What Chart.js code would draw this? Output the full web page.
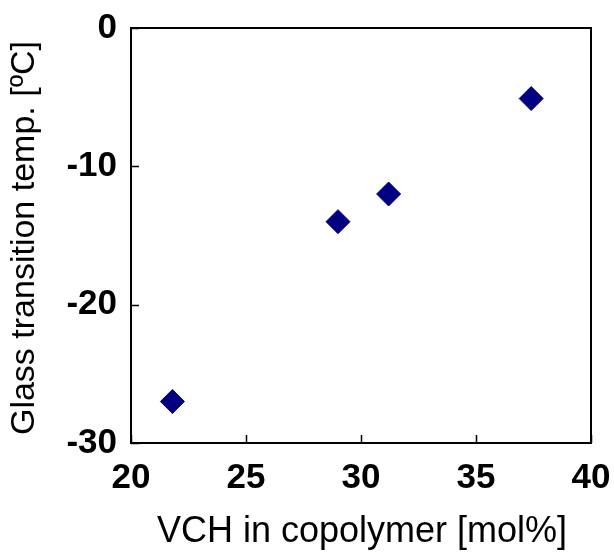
<!DOCTYPE html>
<html>
<head>
<meta charset="utf-8">
<script src="https://cdn.jsdelivr.net/npm/chart.js@4/dist/chart.umd.min.js"></script>
<style>
html,body{margin:0;padding:0;background:#fff;}
#wrap{width:614px;height:552px;}
</style>
</head>
<body>
<div id="wrap"><canvas id="c" width="614" height="552"></canvas></div>
<script>
const vchMolPercent = [21.8, 29.0, 31.2, 37.4];
const glassTransitionTemp = [-27.0, -14.0, -12.0, -5.1];
const xTicks = [20, 25, 30, 35, 40];
const yTicks = [-30, -20, -10, 0];
const xTitle = 'VCH in copolymer [mol%]';
const yTitle = 'Glass transition temp. [ºC]';

const FONT = '"Liberation Sans", Arial, sans-serif';

const points = vchMolPercent.map((x, i) => ({x: x, y: glassTransitionTemp[i]}));

const frameAndTicks = {
  id: 'frameAndTicks',
  afterDraw(chart) {
    const ctx = chart.ctx;
    const a = chart.chartArea;
    const xs = chart.scales.x, ys = chart.scales.y;
    ctx.save();
    ctx.strokeStyle = '#000';
    ctx.lineWidth = 2;
    ctx.strokeRect(a.left, a.top, a.right - a.left, a.bottom - a.top);
    ctx.lineWidth = 1.5;
    const L = 8;
    ctx.beginPath();
    xs.ticks.forEach(t => {
      const px = Math.round(xs.getPixelForValue(t.value)) + 0.5;
      ctx.moveTo(px, a.bottom); ctx.lineTo(px, a.bottom - L);
    });
    ys.ticks.forEach(t => {
      const py = Math.round(ys.getPixelForValue(t.value)) + 0.5;
      ctx.moveTo(a.left, py); ctx.lineTo(a.left + L, py);
    });
    ctx.stroke();
    // axis titles
    ctx.fillStyle = '#000';
    ctx.textAlign = 'center';
    ctx.textBaseline = 'middle';
    ctx.font = '36px ' + FONT;
    ctx.fillText(xTitle, 362, 532);
    ctx.font = '34px ' + FONT;
    ctx.translate(25, 238);
    ctx.rotate(-Math.PI / 2);
    ctx.fillText(yTitle, 0, 0);
    ctx.restore();
  }
};

new Chart(document.getElementById('c'), {
  type: 'scatter',
  data: {
    datasets: [{
      data: points,
      pointStyle: 'rectRot',
      pointRadius: 12,
      pointHoverRadius: 12,
      backgroundColor: '#000080',
      borderColor: '#000080',
      borderWidth: 1
    }]
  },
  options: {
    responsive: false,
    animation: false,
    events: [],
    layout: {padding: {top: 28, right: 23, left: 0, bottom: 0}},
    plugins: {legend: {display: false}, tooltip: {enabled: false}},
    scales: {
      x: {
        type: 'linear', min: 20, max: 40,
        afterBuildTicks: s => { s.ticks = xTicks.map(v => ({value: v})); },
        afterFit: s => { s.height = 109; s.paddingLeft = 0; s.paddingRight = 0; },
        grid: {display: false, drawTicks: false},
        border: {display: false},
        ticks: {color: '#000', font: {family: FONT, size: 35, weight: 'bold'}, padding: 14, maxRotation: 0, autoSkip: false}
      },
      y: {
        type: 'linear', min: -30, max: 0,
        afterBuildTicks: s => { s.ticks = yTicks.map(v => ({value: v})); },
        afterFit: s => { s.width = 131; s.paddingTop = 0; s.paddingBottom = 0; },
        grid: {display: false, drawTicks: false},
        border: {display: false},
        ticks: {color: '#000', font: {family: FONT, size: 35, weight: 'bold'}, padding: 14, autoSkip: false}
      }
    }
  },
  plugins: [frameAndTicks]
});
</script>
</body>
</html>
